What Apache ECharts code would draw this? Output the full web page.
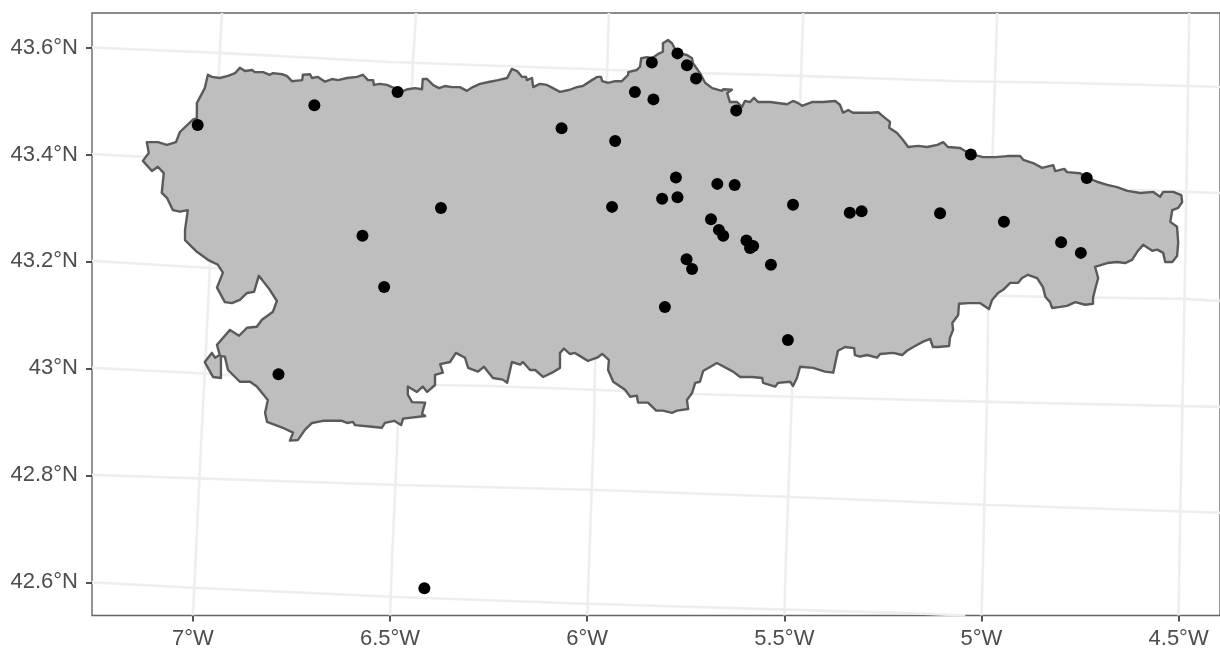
<!DOCTYPE html>
<html>
<head>
<meta charset="utf-8">
<style>html,body{margin:0;padding:0;background:#fff}#c{width:1220px;height:648px}</style>
<script src="https://cdn.jsdelivr.net/npm/echarts@6/dist/echarts.min.js"></script>
</head>
<body>
<div id="c"></div>
<script>
const xTickValues = [-7, -6.5, -6, -5.5, -5, -4.5];
const xTickLabels = ['7°W', '6.5°W', '6°W', '5.5°W', '5°W', '4.5°W'];
const yTickValues = [42.6, 42.8, 43, 43.2, 43.4, 43.6];
const yTickLabels = ['42.6°N', '42.8°N', '43°N', '43.2°N', '43.4°N', '43.6°N'];
const xRange = [-7.256, -4.395];
const yRange = [42.538, 43.6645];

const parallels = [
  [[-7.256,43.600],[-6.932,43.590],[-6.500,43.573],[-5.934,43.558],[-5.706,43.552],[-5.460,43.547],[-5.054,43.537],[-4.800,43.534],[-4.476,43.528],[-4.395,43.526]],
  [[-7.256,43.401],[-7.109,43.395],[-4.476,43.330],[-4.395,43.328]],
  [[-7.256,43.201],[-7.008,43.190],[-6.957,43.188],[-4.970,43.136],[-4.844,43.134],[-4.488,43.130],[-4.395,43.126]],
  [[-7.256,43.001],[-7.008,42.992],[-6.924,42.988],[-6.381,42.969],[-6.247,42.967],[-5.980,42.960],[-5.732,42.952],[-5.480,42.947],[-4.953,42.937],[-4.395,42.928]],
  [[-7.256,42.801],[-6.475,42.782],[-5.993,42.773],[-5.498,42.760],[-4.991,42.745],[-4.395,42.730]],
  [[-7.256,42.600],[-7.000,42.590],[-6.729,42.581],[-6.500,42.573],[-6.000,42.560],[-5.498,42.549],[-5.206,42.543],[-5.041,42.538]]
];
const meridians = [
  [[-6.926,43.6645],[-6.932,43.590],[-6.957,43.190],[-6.970,42.992],[-6.980,42.848],[-7.000,42.538]],
  [[-6.434,43.6645],[-6.442,43.573],[-6.480,42.891],[-6.495,42.642],[-6.500,42.538]],
  [[-5.945,43.6645],[-5.950,43.539],[-5.980,43.010],[-5.983,42.885],[-6.000,42.538]],
  [[-5.452,43.6645],[-5.460,43.498],[-5.480,42.966],[-5.496,42.642],[-5.500,42.538]],
  [[-4.960,43.6645],[-4.970,43.446],[-4.983,43.109],[-4.986,42.941],[-4.996,42.642],[-5.000,42.538]],
  [[-4.473,43.6645],[-4.476,43.528],[-4.481,43.296],[-4.486,43.091],[-4.498,42.642],[-4.500,42.538]]
];

const outline = [
[-6.962,43.549],[-6.952,43.545],[-6.932,43.543],[-6.911,43.547],[-6.893,43.552],[-6.881,43.562],[-6.868,43.556],[-6.850,43.558],[-6.843,43.554],[-6.822,43.554],
[-6.805,43.549],[-6.797,43.552],[-6.774,43.550],[-6.762,43.547],[-6.749,43.537],[-6.723,43.539],[-6.721,43.549],[-6.703,43.550],[-6.698,43.543],[-6.683,43.545],
[-6.665,43.536],[-6.647,43.541],[-6.632,43.539],[-6.609,43.543],[-6.584,43.545],[-6.569,43.549],[-6.556,43.539],[-6.543,43.539],[-6.541,43.530],[-6.526,43.532],
[-6.508,43.530],[-6.495,43.526],[-6.467,43.519],[-6.455,43.522],[-6.437,43.524],[-6.419,43.522],[-6.417,43.541],[-6.406,43.541],[-6.391,43.530],[-6.376,43.524],
[-6.361,43.528],[-6.343,43.526],[-6.323,43.526],[-6.305,43.519],[-6.290,43.526],[-6.272,43.532],[-6.247,43.536],[-6.226,43.539],[-6.203,43.543],[-6.191,43.560],
[-6.178,43.556],[-6.165,43.545],[-6.155,43.545],[-6.153,43.539],[-6.140,43.543],[-6.137,43.526],[-6.120,43.532],[-6.102,43.530],[-6.087,43.524],[-6.069,43.517],
[-6.044,43.521],[-6.026,43.526],[-6.011,43.528],[-5.988,43.539],[-5.975,43.545],[-5.965,43.545],[-5.962,43.537],[-5.947,43.534],[-5.929,43.537],[-5.912,43.537],
[-5.896,43.549],[-5.896,43.554],[-5.874,43.558],[-5.866,43.564],[-5.863,43.580],[-5.848,43.582],[-5.836,43.580],[-5.820,43.588],[-5.808,43.592],[-5.808,43.608],
[-5.795,43.614],[-5.785,43.608],[-5.772,43.590],[-5.747,43.586],[-5.734,43.580],[-5.732,43.571],[-5.714,43.552],[-5.701,43.534],[-5.683,43.524],[-5.658,43.519],
[-5.655,43.522],[-5.633,43.521],[-5.645,43.515],[-5.638,43.498],[-5.620,43.498],[-5.607,43.489],[-5.600,43.500],[-5.587,43.498],[-5.577,43.506],[-5.567,43.498],
[-5.536,43.498],[-5.493,43.494],[-5.478,43.500],[-5.465,43.496],[-5.455,43.491],[-5.430,43.498],[-5.402,43.498],[-5.371,43.500],[-5.359,43.493],[-5.351,43.478],
[-5.338,43.483],[-5.326,43.478],[-5.308,43.478],[-5.282,43.478],[-5.262,43.479],[-5.244,43.468],[-5.232,43.461],[-5.234,43.450],[-5.214,43.440],[-5.199,43.427],
[-5.186,43.414],[-5.161,43.416],[-5.138,43.414],[-5.112,43.418],[-5.097,43.423],[-5.085,43.414],[-5.054,43.412],[-5.029,43.401],[-4.996,43.395],[-4.965,43.395],
[-4.935,43.397],[-4.902,43.397],[-4.894,43.390],[-4.869,43.384],[-4.846,43.375],[-4.818,43.380],[-4.813,43.369],[-4.790,43.373],[-4.783,43.367],[-4.750,43.365],
[-4.732,43.356],[-4.707,43.349],[-4.681,43.343],[-4.656,43.339],[-4.630,43.332],[-4.597,43.328],[-4.564,43.330],[-4.547,43.321],[-4.539,43.330],[-4.514,43.330],
[-4.493,43.324],[-4.491,43.311],[-4.501,43.300],[-4.516,43.296],[-4.521,43.274],[-4.504,43.265],[-4.501,43.235],[-4.504,43.210],[-4.516,43.199],[-4.534,43.199],
[-4.539,43.216],[-4.554,43.222],[-4.567,43.220],[-4.590,43.231],[-4.605,43.218],[-4.618,43.203],[-4.636,43.197],[-4.656,43.199],[-4.681,43.197],[-4.712,43.190],
[-4.704,43.169],[-4.712,43.147],[-4.717,43.132],[-4.717,43.121],[-4.737,43.119],[-4.762,43.124],[-4.783,43.117],[-4.800,43.115],[-4.821,43.113],[-4.826,43.124],
[-4.838,43.134],[-4.844,43.152],[-4.859,43.169],[-4.882,43.175],[-4.897,43.169],[-4.907,43.160],[-4.927,43.160],[-4.945,43.147],[-4.958,43.141],[-4.973,43.128],
[-4.981,43.111],[-5.003,43.122],[-5.034,43.122],[-5.057,43.121],[-5.059,43.100],[-5.074,43.085],[-5.072,43.072],[-5.080,43.057],[-5.082,43.042],[-5.110,43.040],
[-5.123,43.040],[-5.130,43.055],[-5.148,43.050],[-5.173,43.040],[-5.189,43.033],[-5.201,43.025],[-5.224,43.029],[-5.257,43.027],[-5.265,43.020],[-5.290,43.025],
[-5.308,43.022],[-5.321,43.025],[-5.323,43.038],[-5.346,43.040],[-5.364,43.033],[-5.369,43.016],[-5.376,42.992],[-5.397,42.994],[-5.427,43.001],[-5.460,43.003],
[-5.468,42.982],[-5.478,42.967],[-5.485,42.975],[-5.516,42.973],[-5.523,42.966],[-5.554,42.973],[-5.556,42.982],[-5.582,42.984],[-5.612,42.984],[-5.630,42.994],
[-5.671,43.010],[-5.706,42.995],[-5.714,42.975],[-5.726,42.973],[-5.734,42.954],[-5.747,42.941],[-5.744,42.924],[-5.772,42.921],[-5.785,42.917],[-5.808,42.921],
[-5.825,42.921],[-5.846,42.936],[-5.871,42.936],[-5.874,42.949],[-5.891,42.947],[-5.904,42.960],[-5.934,42.975],[-5.947,42.997],[-5.945,43.016],[-5.962,43.027],
[-5.975,43.020],[-5.998,43.014],[-6.018,43.023],[-6.031,43.029],[-6.044,43.027],[-6.059,43.037],[-6.069,43.029],[-6.069,43.001],[-6.089,42.992],[-6.112,42.984],
[-6.132,42.997],[-6.145,42.997],[-6.163,43.012],[-6.170,43.007],[-6.191,43.012],[-6.203,42.973],[-6.214,42.979],[-6.239,42.982],[-6.262,43.003],[-6.277,42.994],
[-6.302,43.001],[-6.310,43.020],[-6.333,43.029],[-6.348,43.012],[-6.373,43.008],[-6.366,42.992],[-6.386,42.988],[-6.386,42.969],[-6.406,42.956],[-6.417,42.966],
[-6.432,42.956],[-6.455,42.966],[-6.455,42.951],[-6.444,42.937],[-6.411,42.936],[-6.419,42.915],[-6.411,42.911],[-6.467,42.906],[-6.472,42.894],[-6.490,42.902],
[-6.513,42.898],[-6.521,42.889],[-6.546,42.891],[-6.589,42.894],[-6.594,42.900],[-6.609,42.898],[-6.622,42.902],[-6.670,42.902],[-6.698,42.898],[-6.716,42.885],
[-6.734,42.866],[-6.754,42.865],[-6.746,42.880],[-6.772,42.889],[-6.812,42.900],[-6.817,42.917],[-6.810,42.941],[-6.838,42.966],[-6.855,42.975],[-6.881,42.975],
[-6.911,42.997],[-6.919,43.022],[-6.929,43.023],[-6.929,42.982],[-6.949,42.984],[-6.962,43.001],[-6.970,43.012],[-6.952,43.029],[-6.944,43.020],[-6.932,43.025],
[-6.939,43.044],[-6.924,43.057],[-6.906,43.072],[-6.883,43.061],[-6.863,43.076],[-6.838,43.078],[-6.825,43.091],[-6.797,43.106],[-6.787,43.126],[-6.805,43.147],
[-6.825,43.166],[-6.833,43.173],[-6.845,43.143],[-6.863,43.141],[-6.881,43.128],[-6.901,43.122],[-6.919,43.124],[-6.939,43.151],[-6.924,43.179],[-6.937,43.194],
[-6.962,43.203],[-6.990,43.218],[-7.020,43.240],[-7.020,43.259],[-7.013,43.296],[-7.033,43.293],[-7.051,43.296],[-7.066,43.319],[-7.079,43.328],[-7.074,43.365],
[-7.089,43.377],[-7.104,43.369],[-7.127,43.388],[-7.112,43.403],[-7.117,43.423],[-7.089,43.423],[-7.066,43.418],[-7.043,43.423],[-7.033,43.442],[-7.000,43.465],
[-6.990,43.468],[-6.990,43.496],[-6.970,43.524]
];

const stations = [
[-6.988,43.455],[-6.692,43.492],[-6.481,43.517],[-6.065,43.449],[-5.929,43.425],[-5.879,43.517],[-5.836,43.572],[-5.832,43.503],[-5.771,43.589],[-5.747,43.567],
[-5.724,43.542],[-5.622,43.482],[-5.775,43.357],[-5.810,43.317],[-5.771,43.320],[-5.670,43.345],[-5.626,43.343],[-5.937,43.302],[-5.686,43.279],[-5.666,43.259],
[-5.655,43.248],[-5.596,43.239],[-5.587,43.225],[-5.579,43.229],[-5.534,43.194],[-5.748,43.204],[-5.734,43.186],[-5.803,43.115],[-5.491,43.053],[-5.478,43.306],
[-5.334,43.291],[-5.304,43.294],[-5.105,43.290],[-5.027,43.400],[-4.943,43.274],[-4.733,43.356],[-4.798,43.236],[-4.748,43.216],[-6.371,43.300],[-6.570,43.248],
[-6.515,43.152],[-6.783,42.989],[-6.413,42.589]
];

const labelColor = '#4d4d4d';
const labelFont = 'Liberation Sans, Arial, Helvetica, sans-serif';
const gridStyle = {color: '#eeeeee', width: 2.6};

const graticule = parallels.concat(meridians).map(pts => ({
  type: 'line', data: pts, showSymbol: false, silent: true, z: 1, clip: true,
  lineStyle: gridStyle, animation: false
}));

const chart = echarts.init(document.getElementById('c'), null, {renderer: 'canvas'});
chart.setOption({
  animation: false,
  backgroundColor: '#fff',
  grid: {left: 92, right: 0, top: 13, bottom: 32.5, outerBoundsMode: 'none', show: true, borderColor: '#666666', borderWidth: 1.4, backgroundColor: 'transparent'},
  xAxis: {
    type: 'value', min: xRange[0], max: xRange[1], splitLine: {show: false},
    axisLine: {show: false},
    axisTick: {show: true, length: 6, lineStyle: {color: '#333', width: 1.7}, customValues: xTickValues},
    axisLabel: {
      color: labelColor, fontFamily: labelFont, fontSize: 22, margin: 12,
      customValues: xTickValues,
      formatter: v => xTickLabels[xTickValues.indexOf(v)]
    }
  },
  yAxis: {
    type: 'value', min: yRange[0], max: yRange[1], splitLine: {show: false},
    axisLine: {show: false},
    axisTick: {show: true, length: 6, lineStyle: {color: '#333', width: 1.7}, customValues: yTickValues},
    axisLabel: {
      color: labelColor, fontFamily: labelFont, fontSize: 22, margin: 14,
      customValues: yTickValues,
      formatter: v => yTickLabels[yTickValues.indexOf(v)]
    }
  },
  series: graticule.concat([
    {
      type: 'custom', name: 'Asturias', z: 2, silent: true, clip: true,
      coordinateSystem: 'cartesian2d',
      data: [0],
      renderItem: (params, api) => ({
        type: 'polygon',
        shape: {points: outline.map(p => api.coord(p))},
        style: {fill: '#bebebe', stroke: '#5a5a5a', lineWidth: 2.4, lineJoin: 'round'}
      })
    },
    {
      type: 'scatter', name: 'Stations', z: 3, silent: true, data: stations,
      symbol: 'circle', symbolSize: 12, itemStyle: {color: '#000', opacity: 1}
    }
  ])
});
</script>
</body>
</html>
